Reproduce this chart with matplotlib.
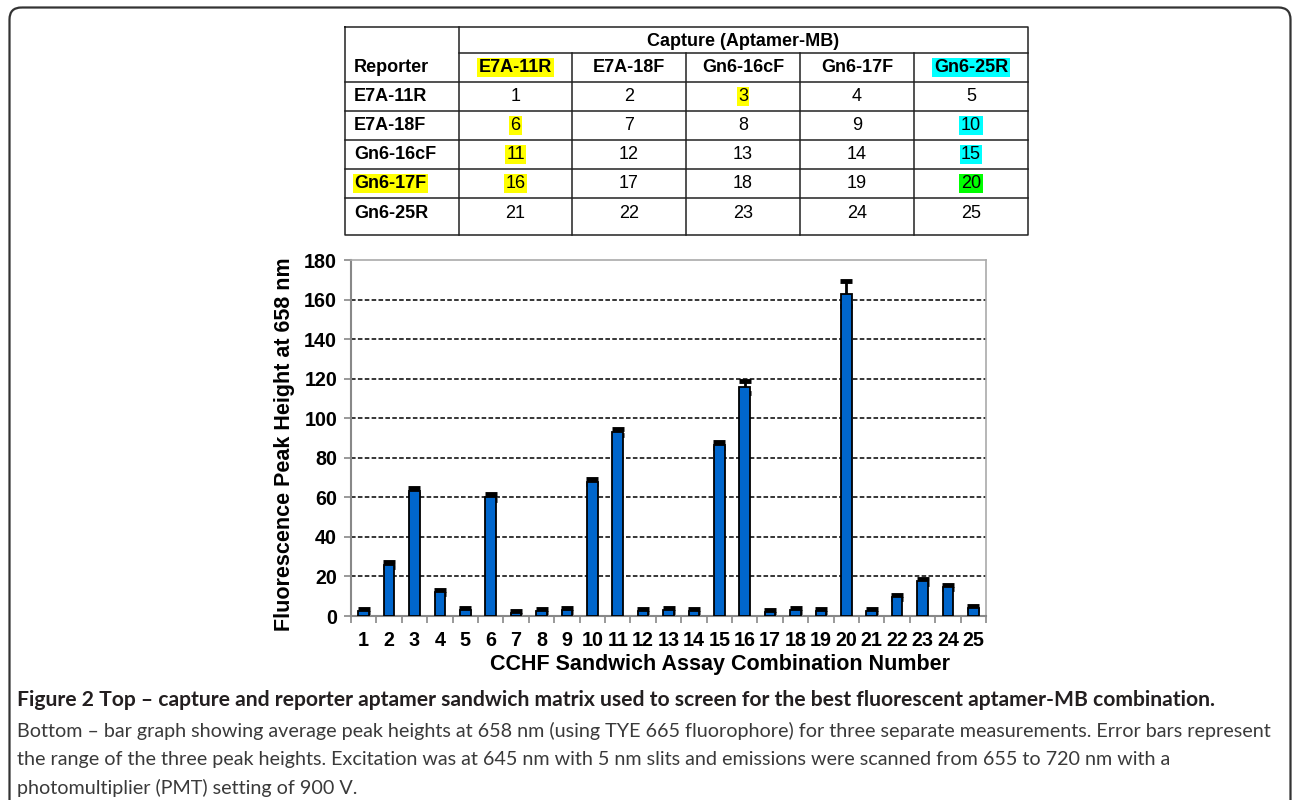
import numpy as np
import matplotlib.pyplot as plt
from matplotlib.patches import FancyBboxPatch

# Data
combo = np.arange(1, 26)
peak = [2.5, 26, 63, 12, 3, 60, 1.5, 2.5, 3, 68, 93, 2.5, 3, 2.5, 86.5,
        116, 2, 3, 2.5, 163, 2.5, 9.5, 17.5, 14.5, 4]
err = [1, 1.2, 1.5, 1, 1, 1.5, 1, 1, 1, 1.5, 1.5, 1, 1, 1, 1.5,
       3, 1, 1, 1, 6.5, 1, 1, 1.2, 1, 1]

aptamers = ["E7A-11R", "E7A-18F", "Gn6-16cF", "Gn6-17F", "Gn6-25R"]
capture_hl = {"E7A-11R": "#ffff00", "Gn6-25R": "#00ffff"}
reporter_hl = {"Gn6-17F": "#ffff00"}
cell_hl = {3: "#ffff00", 6: "#ffff00", 11: "#ffff00", 16: "#ffff00",
           10: "#00ffff", 15: "#00ffff", 20: "#00ff00"}

caption_bold = ("Figure 2 Top \u2013 capture and reporter aptamer sandwich matrix "
                "used to screen for the best fluorescent aptamer-MB combination.")
caption_lines = [
    "Bottom \u2013 bar graph showing average peak heights at 658 nm (using TYE 665 "
    "fluorophore) for three separate measurements. Error bars represent",
    "the range of the three peak heights. Excitation was at 645 nm with 5 nm slits "
    "and emissions were scanned from 655 to 720 nm with a",
    "photomultiplier (PMT) setting of 900 V.",
]

W, H = 1292, 800
fig = plt.figure(figsize=(W / 100, H / 100), dpi=100)

# --- page layer in pixel coordinates: frame, table, caption ---
page = fig.add_axes([0, 0, 1, 1])
page.set_xlim(0, W)
page.set_ylim(H, 0)
page.axis("off")

frame = FancyBboxPatch((9.5, 7.5), W - 11, H + 30,
                       boxstyle="round,pad=0,rounding_size=12",
                       fill=False, ec="#333333", lw=1.6)
page.add_patch(frame)

arial = "Liberation Sans"
tx0, tx1 = 345, 1028
col_x = [345, 459, 572, 686, 800, 914, 1028]
row_y = [27, 53, 82, 111, 140, 169, 198, 235]
lc = "#222222"
lw = 1.1
# outer box
page.plot([tx0, tx1, tx1, tx0, tx0], [row_y[0], row_y[0], row_y[-1], row_y[-1], row_y[0]],
          color=lc, lw=lw)
page.plot([col_x[1], tx1], [row_y[1], row_y[1]], color=lc, lw=lw)
for y in row_y[2:-1]:
    page.plot([tx0, tx1], [y, y], color=lc, lw=lw)
page.plot([col_x[1], col_x[1]], [row_y[0], row_y[-1]], color=lc, lw=lw)
for x in col_x[2:-1]:
    page.plot([x, x], [row_y[1], row_y[-1]], color=lc, lw=lw)

fs_tab = 13
page.text((col_x[1] + tx1) / 2, (row_y[0] + row_y[1]) / 2 + 1, "Capture (Aptamer-MB)",
          ha="center", va="center", fontsize=fs_tab, fontweight="bold", family=arial)
page.text(col_x[0] + 9, (row_y[1] + row_y[2]) / 2, "Reporter", ha="left", va="center",
          fontsize=fs_tab, fontweight="bold", family=arial)
for j, name in enumerate(aptamers):
    cx = (col_x[j + 1] + col_x[j + 2]) / 2
    kw = {}
    if name in capture_hl:
        kw["bbox"] = dict(boxstyle="square,pad=0.08", fc=capture_hl[name], ec="none")
    page.text(cx, (row_y[1] + row_y[2]) / 2, name, ha="center", va="center",
              fontsize=fs_tab, fontweight="bold", family=arial, **kw)
for i, rep in enumerate(aptamers):
    cy = (row_y[i + 2] + row_y[i + 3]) / 2
    if i == 4:
        cy = row_y[i + 2] + 15
    kw = {}
    if rep in reporter_hl:
        kw["bbox"] = dict(boxstyle="square,pad=0.08", fc=reporter_hl[rep], ec="none")
    page.text(col_x[0] + 9, cy, rep, ha="left", va="center", fontsize=fs_tab,
              fontweight="bold", family=arial, **kw)
    for j in range(5):
        n = i * 5 + j + 1
        cx = (col_x[j + 1] + col_x[j + 2]) / 2
        kw = {}
        if n in cell_hl:
            kw["bbox"] = dict(boxstyle="square,pad=0.08", fc=cell_hl[n], ec="none")
        page.text(cx, cy, str(n), ha="center", va="center", fontsize=fs_tab,
                  family=arial, **kw)

cap_font = "Lato"
page.text(17, 700, caption_bold, ha="left", va="center", fontsize=15.2,
          fontweight="bold", family=cap_font, color="#231f20")
for k, line in enumerate(caption_lines):
    page.text(17, 731 + k * 28.3, line, ha="left", va="center", fontsize=14.2,
              family=cap_font, color="#3a3a3a")

# --- bar chart ---
ax = fig.add_axes([351 / W, 1 - 616 / H, (986 - 351) / W, (616 - 260) / H])
ax.errorbar(combo, peak, yerr=err, fmt="none", ecolor="black", elinewidth=2,
            capsize=4, capthick=3.5, zorder=2)
ax.bar(combo, peak, width=0.42, color="#0066cc", edgecolor="black", linewidth=1.3,
       zorder=3)
ax.set_xlim(0.5, 25.5)
ax.set_ylim(0, 180)
ax.set_yticks(np.arange(0, 181, 20))
ax.set_xticks(combo)
ax.set_xticks(np.arange(0.5, 26, 1), minor=True)
ax.tick_params(axis="x", which="major", length=0, pad=11)
ax.tick_params(axis="x", which="minor", length=5, color="#888888", width=1.2)
ax.tick_params(axis="y", length=5, color="#888888", width=1.2, pad=5)
for lab in ax.get_xticklabels() + ax.get_yticklabels():
    lab.set_fontweight("bold")
    lab.set_fontsize(14.2)
    lab.set_family(arial)
for y in range(20, 180, 20):
    ax.axhline(y, color="black", ls=(0, (3, 1.5)), lw=1.1, zorder=1)
for side in ["top", "right"]:
    ax.spines[side].set_color("#aaaaaa")
    ax.spines[side].set_linewidth(1.2)
for side in ["left", "bottom"]:
    ax.spines[side].set_color("#888888")
    ax.spines[side].set_linewidth(1.5)
ax.set_xlabel("CCHF Sandwich Assay Combination Number", fontsize=15.5,
              fontweight="bold", family=arial)
ax.xaxis.set_label_coords((720 - 351) / 635, -0.108)
ax.set_ylabel("Fluorescence Peak Height at 658 nm", fontsize=15.5,
              fontweight="bold", family=arial)
ax.yaxis.set_label_coords(-(351 - 295) / 635, (616 - 444) / 356)

fig.savefig("out.png", dpi=100)
